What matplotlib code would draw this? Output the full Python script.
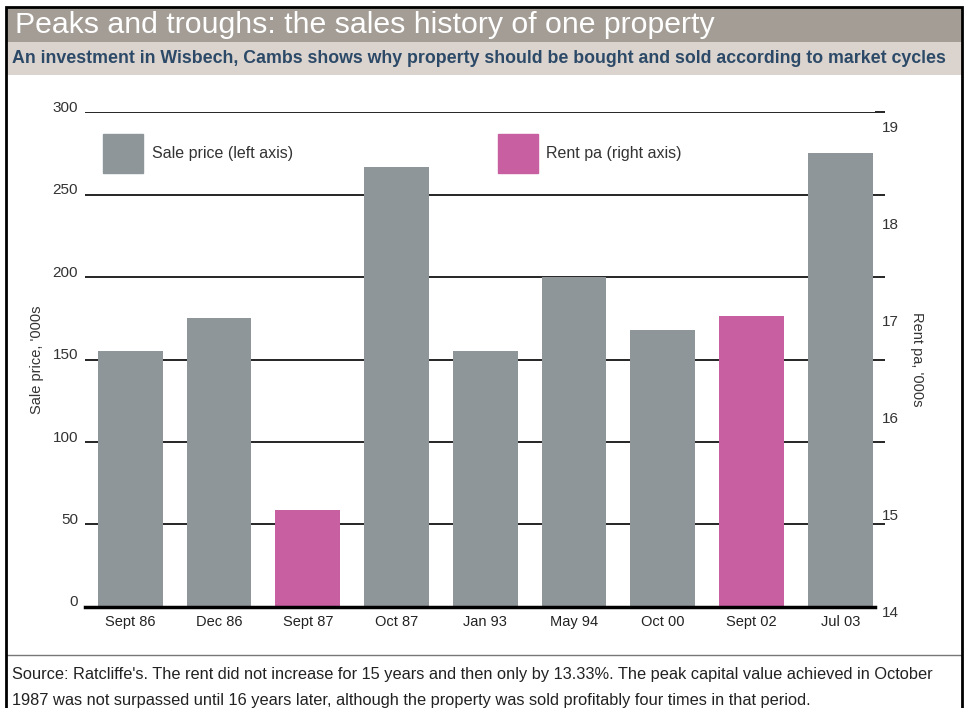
import numpy as np
import matplotlib
matplotlib.use('Agg')
import matplotlib.pyplot as plt
from matplotlib.patches import Rectangle, Patch
from matplotlib.transforms import ScaledTranslation

plt.rcParams['font.family'] = ['Liberation Sans', 'DejaVu Sans']

dates = ['Sept 86', 'Dec 86', 'Sept 87', 'Oct 87', 'Jan 93', 'May 94', 'Oct 00', 'Sept 02', 'Jul 03']
# sale price in '000s (None where the entry is a rent figure)
sale = [155, 175, None, 267, 155, 200, 168, None, 275]
# rent pa in '000s
rent = [None, None, 15, None, None, None, None, 17, None]

grey = '#8e9699'
pink = '#c85fa0'

fig = plt.figure(figsize=(9.68, 7.08), dpi=100)

# header bands and frame
fig.patches.append(Rectangle((0.006, 0.941), 0.988, 0.048, transform=fig.transFigure,
                             facecolor='#a39d95', edgecolor='none', zorder=0))
fig.patches.append(Rectangle((0.006, 0.894), 0.988, 0.047, transform=fig.transFigure,
                             facecolor='#dad3ce', edgecolor='none', zorder=0))
fig.patches.append(Rectangle((0.006, -0.01), 0.988, 1.0, transform=fig.transFigure,
                             facecolor='none', edgecolor='black', lw=2, zorder=5))
fig.add_artist(plt.Line2D([0.006, 0.994], [0.075, 0.075], color='#777777', lw=1))

fig.text(0.016, 0.965, 'Peaks and troughs: the sales history of one property',
         color='white', fontsize=21.8, va='center', ha='left')
fig.text(0.012, 0.917, 'An investment in Wisbech, Cambs shows why property should be bought and sold according to market cycles',
         color='#2c4a68', fontsize=12.8, fontweight='bold', va='center', ha='left')
fig.text(0.012, 0.047, "Source: Ratcliffe's. The rent did not increase for 15 years and then only by 13.33%. The peak capital value achieved in October",
         color='#222222', fontsize=11.8, va='center', ha='left')
fig.text(0.012, 0.011, '1987 was not surpassed until 16 years later, although the property was sold profitably four times in that period.',
         color='#222222', fontsize=11.8, va='center', ha='left')

ax = fig.add_axes([0.0878, 0.1427, 0.816, 0.699])
x = np.arange(len(dates))
sx = [i for i, v in enumerate(sale) if v is not None]
sv = [v for v in sale if v is not None]
ax.bar(sx, sv, width=0.73, color=grey, zorder=2)
ax.set_ylim(0, 300)
ax.set_xlim(-0.51, 8.39)
ax.set_yticks(np.arange(0, 301, 50))
ax.yaxis.grid(True, color='black', lw=1.2)
ax.set_axisbelow(True)
ax.tick_params(axis='y', length=0, pad=5, labelsize=11, labelcolor='#333333')
for lab in ax.get_yticklabels():
    lab.set_transform(lab.get_transform() + ScaledTranslation(0, 6 / 100, fig.dpi_scale_trans))
ax.set_xticks(x)
ax.set_xticklabels(dates)
ax.tick_params(axis='x', length=0, pad=6, labelsize=10.5, labelcolor='#222222')
for s in ax.spines.values():
    s.set_visible(False)
ax.set_ylabel("Sale price, '000s", fontsize=10.5, color='#333333', labelpad=6)

ax2 = ax.twinx()
rx = [i for i, v in enumerate(rent) if v is not None]
rv = [v for v in rent if v is not None]
ax2.bar(rx, rv, width=0.73, color=pink, zorder=2)
ax2.set_ylim(14, 19.1)
ax2.set_yticks(np.arange(14, 20, 1))
ax2.set_yticks(np.linspace(14, 19.1, 7), minor=True)
ax2.tick_params(axis='y', which='major', length=0, pad=5, labelsize=11, labelcolor='#333333')
ax2.tick_params(axis='y', which='minor', length=7, width=1.2, color='black')
for lab in ax2.get_yticklabels():
    lab.set_transform(lab.get_transform() + ScaledTranslation(0, -5 / 100, fig.dpi_scale_trans))
for s in ['top', 'left', 'right']:
    ax2.spines[s].set_visible(False)
ax2.spines['bottom'].set_linewidth(2.5)
ax2.set_ylabel("Rent pa, '000s", fontsize=10.5, color='#333333', rotation=-90, labelpad=18)

handles = [Patch(color=grey, label='Sale price (left axis)'),
           Patch(color=pink, label='Rent pa (right axis)')]
ax2.legend(handles=handles, loc='upper left', bbox_to_anchor=(0.005, 0.985), ncol=2,
           frameon=False, fontsize=11.5, handlelength=2.5, handleheight=3.4,
           handletextpad=0.55, columnspacing=12.8, labelcolor='#333333')

fig.savefig('out.png', dpi=100)
